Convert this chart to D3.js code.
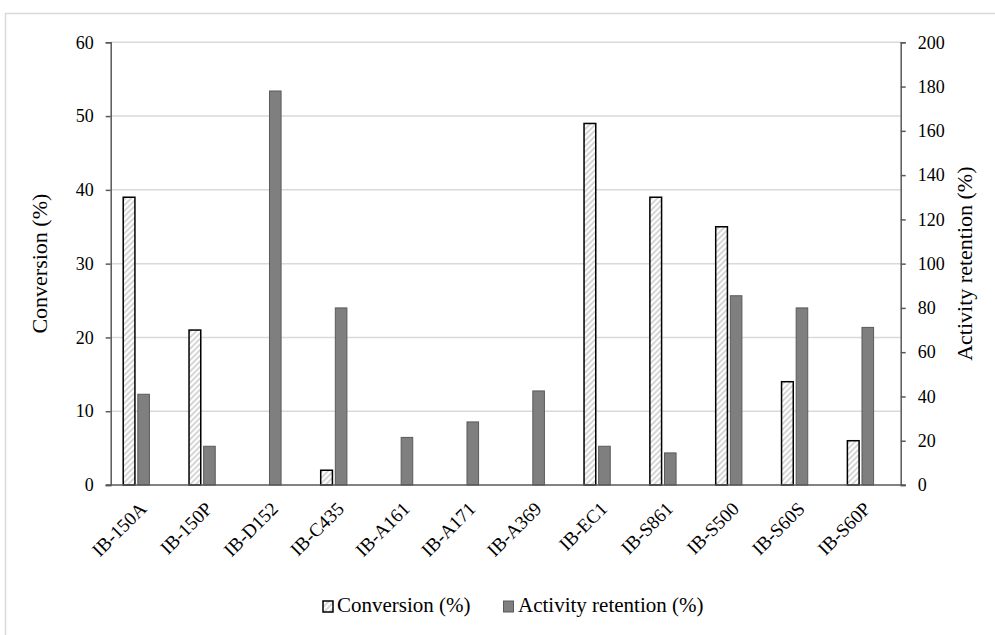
<!DOCTYPE html>
<html><head><meta charset="utf-8">
<script src="https://cdn.jsdelivr.net/npm/d3@7"></script>
<style>body{margin:0;background:#fff}svg{display:block}
svg text{font-family:"Liberation Serif","DejaVu Serif",serif !important;}</style>
</head><body><svg id="c" width="995" height="635"></svg>
<script>
const categories = ["IB-150A","IB-150P","IB-D152","IB-C435","IB-A161","IB-A171","IB-A369","IB-EC1","IB-S861","IB-S500","IB-S60S","IB-S60P"];
const conversion = [39, 21, 0, 2, 0, 0, 0, 49, 39, 35, 14, 6];
const activityRetention = [41, 17.5, 178, 80, 21.5, 28.5, 42.5, 17.5, 14.5, 85.5, 80, 71.2];
const leftTicks = [0, 10, 20, 30, 40, 50, 60];
const rightTicks = [0, 20, 40, 60, 80, 100, 120, 140, 160, 180, 200];
const seriesNames = ["Conversion (%)", "Activity retention (%)"];

const svg = d3.select("#c");
const fs = 18;
const m = {l: 110.7, r: 900.7, t: 42.3, b: 485};

const defs = svg.append("defs");
const pat = defs.append("pattern").attr("id","hatch").attr("patternUnits","userSpaceOnUse")
  .attr("width",4).attr("height",4).attr("patternTransform","rotate(45)");
pat.append("rect").attr("width",4).attr("height",4).attr("fill","#fff");
pat.append("rect").attr("width",2).attr("height",4).attr("fill","#d6d6d6");

svg.append("rect").attr("x",5.5).attr("y",13.5).attr("width",1100).attr("height",800)
  .attr("fill","#fff").attr("stroke","#d9d9d9").attr("stroke-width",1.5);

const x = d3.scaleBand().domain(categories).range([m.l, m.r]).paddingInner(0).paddingOuter(0);
const yL = d3.scaleLinear().domain([0,60]).range([m.b, m.t]);
const yR = d3.scaleLinear().domain([0,200]).range([m.b, m.t]);
const bw = x.bandwidth();

svg.append("g").selectAll("line").data(leftTicks.filter(d=>d>0)).join("line")
  .attr("x1",m.l).attr("x2",m.r).attr("y1",d=>yL(d)).attr("y2",d=>yL(d))
  .attr("stroke","#d9d9d9").attr("stroke-width",1.5);

const convW = bw*0.178, actW = bw*0.176;
svg.append("g").selectAll("rect").data(categories.map((c,i)=>({c,v:conversion[i]})).filter(d=>d.v>0)).join("rect")
  .attr("x",d=>x(d.c)+bw*0.19).attr("width",convW)
  .attr("y",d=>yL(d.v)).attr("height",d=>yL(0)-yL(d.v))
  .attr("fill","url(#hatch)").attr("stroke","#000").attr("stroke-width",1.5);
svg.append("g").selectAll("rect").data(categories.map((c,i)=>({c,v:activityRetention[i]}))).join("rect")
  .attr("x",d=>x(d.c)+bw*0.412).attr("width",actW)
  .attr("y",d=>yR(d.v)).attr("height",d=>yR(0)-yR(d.v))
  .attr("fill","#7f7f7f").attr("stroke","#5a5a5a").attr("stroke-width",1);

const axL = svg.append("g").attr("transform",`translate(${m.l},0)`)
  .call(d3.axisLeft(yL).tickValues(leftTicks).tickSize(5).tickPadding(12));
const axR = svg.append("g").attr("transform",`translate(${m.r},0)`)
  .call(d3.axisRight(yR).tickValues(rightTicks).tickSize(5).tickPadding(12));
const axB = svg.append("g").attr("transform",`translate(0,${m.b})`)
  .call(d3.axisBottom(x).tickSize(0).tickPadding(0));
[axL,axR,axB].forEach(a=>{
  a.attr("font-family",null).attr("font-size",null);
  a.selectAll(".domain").attr("stroke","#595959").attr("stroke-width",1.5);
  a.selectAll(".tick line").attr("stroke","#595959").attr("stroke-width",1.5);
  a.selectAll("text").style("font-size",fs+"px").attr("fill","#000");
});
axB.select(".domain").attr("d",`M${m.l-5},0H${m.r+5}`);
axB.selectAll(".tick text").style("font-size","19px").attr("text-anchor","end").attr("dy",0).attr("y",0)
  .attr("transform","translate(4,25) rotate(-45)");

svg.append("text").attr("transform",`translate(47,${(m.t+m.b)/2}) rotate(-90)`)
  .attr("text-anchor","middle").style("font-size","22px").text("Conversion (%)");
svg.append("text").attr("transform",`translate(972,${(m.t+m.b)/2}) rotate(-90)`)
  .attr("text-anchor","middle").style("font-size","22px").text("Activity retention (%)");

const lg = svg.append("g").attr("transform","translate(0,612)");
lg.append("rect").attr("x",323).attr("y",-11).attr("width",10).attr("height",11)
  .attr("fill","url(#hatch)").attr("stroke","#000").attr("stroke-width",1.5);
lg.append("text").attr("x",337).attr("y",0).style("font-size","21px").text(seriesNames[0]);
lg.append("rect").attr("x",503.5).attr("y",-11).attr("width",10).attr("height",11)
  .attr("fill","#7f7f7f").attr("stroke","#5a5a5a").attr("stroke-width",1);
lg.append("text").attr("x",518).attr("y",0).style("font-size","21px").text(seriesNames[1]);
</script></body></html>
